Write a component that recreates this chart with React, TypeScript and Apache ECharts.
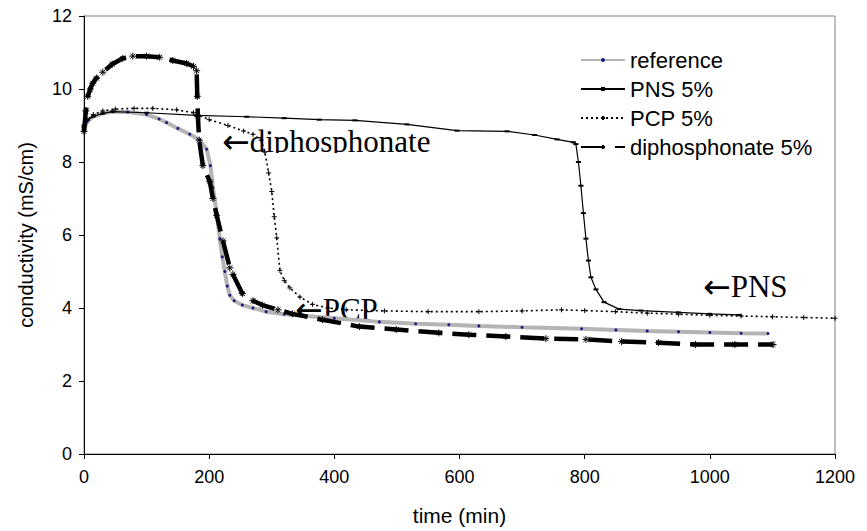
import React, { useEffect, useRef } from "react";
import * as echarts from "echarts";

const xTicks = [0, 200, 400, 600, 800, 1000, 1200];
const yTicks = [0, 2, 4, 6, 8, 10, 12];
const seriesNames = ["reference", "PNS 5%", "PCP 5%", "diphosphonate 5%"];

const referenceData: [number, number][] = [
  [0, 8.9], [5, 9.1], [14, 9.24], [30, 9.33], [46, 9.38], [70, 9.37], [100, 9.3],
  [120, 9.18], [132, 9.08], [150, 8.92], [169, 8.76], [185, 8.6], [196, 8.35],
  [202, 7.9], [206, 7.3], [212, 6.6], [217, 5.9], [221, 5.4], [225, 5.0],
  [229, 4.6], [233, 4.35], [240, 4.2], [253, 4.08], [270, 4.0], [291, 3.9],
  [320, 3.83], [355, 3.78], [400, 3.72], [472, 3.62], [530, 3.57], [583, 3.54],
  [631, 3.51], [700, 3.47], [795, 3.43], [850, 3.4], [900, 3.37], [950, 3.35],
  [1000, 3.33], [1050, 3.31], [1093, 3.3],
];

const pnsData: [number, number][] = [
  [0, 9.0], [5, 9.15], [15, 9.25], [30, 9.33], [46, 9.38], [100, 9.35],
  [180, 9.28], [260, 9.24], [320, 9.2], [376, 9.16], [433, 9.14], [516, 9.03],
  [596, 8.86], [676, 8.84], [720, 8.74], [756, 8.62], [782, 8.54], [786, 8.49],
  [790, 8.0], [794, 7.35], [798, 6.6], [802, 5.9], [806, 5.3], [810, 4.84],
  [818, 4.51], [831, 4.16], [855, 3.97], [890, 3.93], [950, 3.88], [1000, 3.84],
  [1046, 3.81],
];

const pcpData: [number, number][] = [
  [0, 8.95], [5, 9.15], [15, 9.3], [30, 9.4], [50, 9.45], [80, 9.47], [110, 9.47],
  [148, 9.43], [175, 9.35], [200, 9.16], [230, 9.0], [255, 8.85], [270, 8.76],
  [283, 8.6], [289, 8.27], [295, 7.7], [300, 7.19], [304, 6.5], [308, 5.92],
  [313, 5.03], [320, 4.75], [329, 4.55], [345, 4.3], [365, 4.1], [390, 4.0],
  [419, 3.95], [480, 3.92], [550, 3.9], [631, 3.9], [700, 3.92], [763, 3.95],
  [800, 3.93], [849, 3.9], [900, 3.86], [950, 3.83], [1000, 3.8], [1050, 3.78],
  [1100, 3.76], [1150, 3.74], [1200, 3.72],
];

const diphosData: [number, number][] = [
  [0, 8.84], [3, 9.4], [6, 9.8], [10, 10.0], [14, 10.16], [20, 10.3], [30, 10.46],
  [45, 10.68], [62, 10.84], [78, 10.9], [100, 10.9], [121, 10.87], [142, 10.78],
  [164, 10.7], [175, 10.62], [180, 10.5], [181, 9.8], [182, 9.24], [184, 8.6],
  [190, 7.9], [201, 7.46], [206, 7.0], [212, 6.54], [222, 5.84], [233, 5.1],
  [238, 4.92], [253, 4.4], [270, 4.2], [285, 4.08], [310, 3.95], [333, 3.84],
  [381, 3.68], [440, 3.49], [499, 3.41], [567, 3.32], [615, 3.27], [674, 3.22],
  [738, 3.16], [802, 3.14], [859, 3.08], [918, 3.05], [977, 3.0], [1040, 3.0],
  [1101, 3.0],
];

const annotations = [
  { label: "diphosphonate", x: 222, y: 141 },
  { label: "PCP", x: 295, y: 309 },
  { label: "PNS", x: 703, y: 286 },
];

const asterisk = "path://M0,5L10,5M5,0L5,10M1.5,1.5L8.5,8.5M8.5,1.5L1.5,8.5";
const plus = "path://M0,5L10,5M5,0L5,10";

export default function App() {
  const ref = useRef<HTMLDivElement>(null);
  useEffect(() => {
    if (!ref.current) return;
    const chart = echarts.init(ref.current, null, { renderer: "svg" });
    const sans = "Liberation Sans, Arial, sans-serif";
    const serif = "Liberation Serif, Times New Roman, serif";
    chart.setOption({
      animation: false,
      backgroundColor: "#ffffff",
      grid: {
        left: 84, right: 32, top: 16, bottom: 73,
        show: true, borderColor: "#808080", borderWidth: 1,
      },
      legend: {
        orient: "vertical",
        left: 575, top: 43,
        itemWidth: 44, itemHeight: 5, itemGap: 5,
        textStyle: { fontFamily: sans, fontSize: 22, color: "#000", lineHeight: 24 },
        data: seriesNames,
      },
      xAxis: {
        type: "value", min: 0, max: 1200, interval: 200,
        name: "time (min)", nameLocation: "middle", nameGap: 51,
        nameTextStyle: { fontFamily: sans, fontSize: 21, color: "#000" },
        axisLine: { show: true, lineStyle: { color: "#000", width: 1 } },
        axisTick: { show: true, inside: false, length: 5, lineStyle: { color: "#000" } },
        axisLabel: { fontFamily: sans, fontSize: 18, color: "#000", margin: 14,
          formatter: (v: number) => (xTicks.includes(v) ? String(v) : "") },
        splitLine: { show: false },
      },
      yAxis: {
        type: "value", min: 0, max: 12, interval: 2,
        name: "conductivity (mS/cm)", nameLocation: "middle", nameGap: 48,
        nameTextStyle: { fontFamily: sans, fontSize: 20, color: "#000" },
        axisLine: { show: true, lineStyle: { color: "#000", width: 1 } },
        axisTick: { show: true, inside: false, length: 5, lineStyle: { color: "#000" } },
        axisLabel: { fontFamily: sans, fontSize: 18, color: "#000", margin: 12,
          formatter: (v: number) => (yTicks.includes(v) ? String(v) : "") },
        splitLine: { show: false },
      },
      graphic: [
        ...annotations.map((a) => ({
          type: "text", x: a.x, y: a.y, z: 0,
          style: {
            text: "{a|\u2190}{b|" + a.label + "}",
            fill: "#000",
            textAlign: "left", textVerticalAlign: "middle",
            rich: {
              a: { fontFamily: "DejaVu Sans", fontSize: 33, fill: "#000" },
              b: { fontFamily: serif, fontSize: 31, fill: "#000" },
            },
          },
        })),
        { type: "rect", x: 250, y: 153, z: 1, shape: { width: 195, height: 12 },
          style: { fill: "#fff" } },
      ],
      series: [
        {
          name: seriesNames[0], type: "line", data: referenceData,
          symbol: "circle", symbolSize: 3, showSymbol: true,
          itemStyle: { color: "#1a1a80" },
          lineStyle: { color: "#b4b4b4", width: 4 },
          z: 3,
        },
        {
          name: seriesNames[1], type: "line", data: pnsData,
          symbol: "rect", symbolSize: [5, 2], showSymbol: true,
          itemStyle: { color: "#000" },
          lineStyle: { color: "#000", width: 1.2 },
          z: 4,
        },
        {
          name: seriesNames[2], type: "line", data: pcpData,
          symbol: plus, symbolSize: 5, showSymbol: true,
          itemStyle: { color: "#000", borderColor: "#000", borderWidth: 1 },
          lineStyle: { color: "#000", width: 1.6, type: [2, 3] },
          z: 4,
        },
        {
          name: seriesNames[3], type: "line", data: diphosData,
          symbol: asterisk, symbolSize: 7, showSymbol: true,
          itemStyle: { color: "#000", borderColor: "#000", borderWidth: 1 },
          lineStyle: { color: "#000", width: 4.5, type: [24, 10] },
          z: 5,
        },
      ],
    });
    return () => chart.dispose();
  }, []);
  return <div ref={ref} style={{ width: 867, height: 531, position: "absolute", left: 0, top: 0 }} />;
}
